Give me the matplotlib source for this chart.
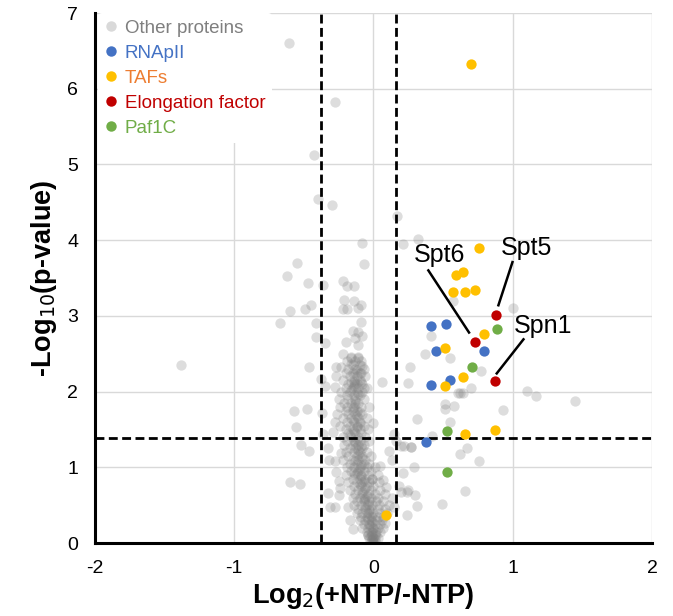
import matplotlib
matplotlib.use("Agg")
import matplotlib.pyplot as plt
from matplotlib.lines import Line2D

plt.rcParams['font.family'] = ['Liberation Sans', 'DejaVu Sans']
plt.rcParams['axes.unicode_minus'] = False

# ---------------- data ----------------
# Other proteins (outliers)
other_x = [-0.61, -0.28, -0.43, -0.40, -0.30, 0.17,
           -0.08, 0.21, -0.55, -0.07, -0.62, -0.47, -0.22, -0.19, -0.14, -0.36,
           -0.21, -0.14, -0.09, -0.22, -0.19, -0.11, -0.60, -0.49, -0.45, -0.67,
           -0.41, -0.09, -0.15, -0.11, -0.13, -0.08, -0.41, -0.35, -0.20, -0.11,
           -0.22, -0.16, -0.11, -0.16, -0.08, -0.27, -0.23, -1.38, -0.46, -0.13,
           -0.09, -0.27, -0.38, -0.16, -0.12, -0.09, 0.06, -0.35, -0.28, -0.14,
           -0.07, 0.26, 0.25,
           -0.57, -0.48, -0.56, -0.52, -0.46, -0.60, -0.53, -0.37, -0.36, -0.28,
           -0.29, -0.33, -0.32, -0.28, -0.27, -0.23, -0.33, -0.25, -0.25, -0.24,
           -0.31, -0.28, -0.18, -0.17, -0.15, 0.31, 0.00, 0.15, 0.20, 0.27,
           0.11, 0.13, 0.21, 0.29, 0.05, -0.01, 0.07, 0.09, 0.18, 0.25,
           0.30, 0.31, 0.24, 0.15, 0.13, 0.08, -0.04,
           0.32, 0.57, 1.00, 0.41, 0.55, 0.37, 0.77, 0.70, 0.62, 1.10,
           1.17, 1.45, 0.51, 0.51, 0.93, 0.55, 0.42, 0.67, 0.62, 0.76,
           0.61, 0.64, 0.58, 0.66, 0.49, 0.22, 0.16, 0.27, 0.20, 0.24]
other_y = [6.60, 5.82, 5.13, 4.55, 4.46, 4.32,
           3.96, 3.95, 3.70, 3.69, 3.53, 3.44, 3.46, 3.40, 3.40, 3.41,
           3.21, 3.20, 3.15, 3.09, 3.09, 3.11, 3.07, 3.09, 3.15, 2.91,
           2.91, 2.92, 2.80, 2.79, 2.71, 2.73, 2.72, 2.64, 2.65, 2.62,
           2.50, 2.46, 2.46, 2.37, 2.34, 2.32, 2.33, 2.35, 2.33, 2.24,
           2.24, 2.20, 2.17, 2.13, 2.11, 2.13, 2.13, 2.07, 2.06, 2.08,
           2.05, 2.33, 2.11,
           1.74, 1.77, 1.53, 1.30, 1.22, 0.80, 0.78, 1.72, 1.44, 1.60,
           1.47, 1.25, 1.10, 1.08, 0.94, 1.19, 0.66, 0.82, 0.63, 0.72,
           0.47, 0.48, 0.48, 0.30, 0.19, 1.64, 1.58, 1.44, 1.28, 1.27,
           1.21, 1.10, 0.93, 1.01, 1.02, 0.84, 0.83, 0.74, 0.75, 0.70,
           0.63, 0.49, 0.37, 0.48, 0.59, 0.26, 0.11,
           4.02, 3.20, 3.10, 2.73, 2.45, 2.49, 2.27, 2.05, 1.98, 2.01,
           1.94, 1.88, 1.83, 1.77, 1.76, 1.60, 1.41, 1.25, 1.18, 1.08,
           1.98, 1.98, 1.81, 0.69, 0.51, 1.28, 1.35, 1.27, 0.67, 0.68]

# Other proteins (dense central cloud), read row by row
cloud_x = [-0.16, -0.11, -0.19, -0.13, -0.09, -0.15, -0.10, -0.18, -0.13, -0.07,
           -0.20, -0.15, -0.10, -0.17, -0.12, -0.06, -0.22, -0.14, -0.10,
           -0.18, -0.13, -0.08, -0.20, -0.15, -0.11, -0.05, -0.23, -0.17, -0.12, -0.08,
           -0.19, -0.14, -0.10, -0.25, -0.18, -0.13, -0.07, -0.21, -0.16, -0.11,
           -0.24, -0.19, -0.14, -0.09, -0.03, -0.20, -0.15, -0.12,
           -0.26, -0.18, -0.13, -0.08, -0.22, -0.16, -0.11, -0.05,
           -0.19, -0.14, -0.10, -0.24, -0.17, -0.12, -0.07,
           -0.20, -0.15, -0.10, -0.04, -0.18, -0.13, -0.09,
           -0.22, -0.16, -0.11, -0.06, -0.19, -0.14, -0.10, -0.03,
           -0.21, -0.15, -0.11, -0.07, -0.17, -0.13, -0.08,
           -0.20, -0.14, -0.10, -0.05, -0.18, -0.12, -0.08, -0.02,
           -0.22, -0.15, -0.11, -0.06, -0.17, -0.12, -0.07, -0.03,
           -0.19, -0.14, -0.10, -0.05, 0.01, -0.16, -0.11, -0.07, -0.02,
           -0.20, -0.13, -0.09, -0.04, 0.03, -0.15, -0.10, -0.06, -0.01,
           -0.18, -0.12, -0.08, -0.03, 0.04, -0.14, -0.09, -0.05, 0.00,
           -0.17, -0.11, -0.07, -0.02, 0.05, -0.13, -0.08, -0.04, 0.01, 0.08,
           -0.15, -0.10, -0.06, -0.02, 0.03, -0.12, -0.07, -0.03, 0.02, 0.07,
           -0.14, -0.09, -0.05, -0.01, 0.04, 0.11, -0.11, -0.06, -0.02, 0.03, 0.08,
           -0.12, -0.08, -0.04, 0.00, 0.05, 0.10, -0.09, -0.05, -0.01, 0.03, 0.07,
           -0.10, -0.06, -0.02, 0.02, 0.06, -0.07, -0.03, 0.01, 0.05,
           -0.08, -0.04, 0.00, 0.03, 0.07, -0.05, -0.02, 0.02, 0.05,
           -0.04, -0.01, 0.02, -0.03, 0.00, 0.03, -0.02, 0.01, 0.00]
cloud_y = [2.45, 2.45, 2.40, 2.40, 2.40, 2.35, 2.35, 2.30, 2.30, 2.30,
           2.25, 2.25, 2.25, 2.20, 2.20, 2.20, 2.15, 2.15, 2.15,
           2.10, 2.10, 2.10, 2.05, 2.05, 2.05, 2.05, 2.00, 2.00, 2.00, 2.00,
           1.95, 1.95, 1.95, 1.90, 1.90, 1.90, 1.90, 1.85, 1.85, 1.85,
           1.80, 1.80, 1.80, 1.80, 1.80, 1.75, 1.75, 1.75,
           1.70, 1.70, 1.70, 1.70, 1.65, 1.65, 1.65, 1.65,
           1.60, 1.60, 1.60, 1.55, 1.55, 1.55, 1.55,
           1.50, 1.50, 1.50, 1.50, 1.45, 1.45, 1.45,
           1.40, 1.40, 1.40, 1.40, 1.35, 1.35, 1.35, 1.35,
           1.30, 1.30, 1.30, 1.30, 1.25, 1.25, 1.25,
           1.20, 1.20, 1.20, 1.20, 1.15, 1.15, 1.15, 1.15,
           1.10, 1.10, 1.10, 1.10, 1.05, 1.05, 1.05, 1.05,
           1.00, 1.00, 1.00, 1.00, 1.00, 0.95, 0.95, 0.95, 0.95,
           0.90, 0.90, 0.90, 0.90, 0.90, 0.85, 0.85, 0.85, 0.85,
           0.80, 0.80, 0.80, 0.80, 0.80, 0.75, 0.75, 0.75, 0.75,
           0.70, 0.70, 0.70, 0.70, 0.70, 0.65, 0.65, 0.65, 0.65, 0.65,
           0.60, 0.60, 0.60, 0.60, 0.60, 0.55, 0.55, 0.55, 0.55, 0.55,
           0.50, 0.50, 0.50, 0.50, 0.50, 0.50, 0.45, 0.45, 0.45, 0.45, 0.45,
           0.40, 0.40, 0.40, 0.40, 0.40, 0.40, 0.35, 0.35, 0.35, 0.35, 0.35,
           0.30, 0.30, 0.30, 0.30, 0.30, 0.25, 0.25, 0.25, 0.25,
           0.20, 0.20, 0.20, 0.20, 0.20, 0.15, 0.15, 0.15, 0.15,
           0.10, 0.10, 0.10, 0.06, 0.06, 0.06, 0.03, 0.03, 0.01]

# extra points in the darkest part of the spine
core_x = [-0.12, -0.14, -0.11, -0.13, -0.15, -0.12, -0.10, -0.14, -0.12, -0.09,
          -0.11, -0.13, -0.10, -0.08, -0.12, -0.09, -0.07, -0.10, -0.06, -0.08,
          -0.05, -0.07, -0.04, -0.06, -0.03, -0.05, -0.02, -0.04, -0.01, -0.03,
          -0.02, 0.00, -0.01, 0.01, -0.02, 0.00, 0.01, -0.01, 0.00, 0.00,
          -0.16, -0.13, -0.10, -0.15, -0.12, -0.17, -0.13, -0.11, -0.09, -0.14]
core_y = [2.28, 2.12, 1.97, 1.88, 1.78, 1.68, 1.58, 1.48, 1.38, 1.28,
          1.18, 1.08, 0.98, 1.12, 0.92, 0.88, 0.82, 0.78, 0.72, 0.68,
          0.62, 0.58, 0.52, 0.48, 0.44, 0.40, 0.36, 0.32, 0.28, 0.24,
          0.22, 0.18, 0.14, 0.12, 0.09, 0.07, 0.05, 0.04, 0.02, 0.00,
          2.02, 1.83, 1.73, 1.63, 1.53, 1.43, 1.33, 1.23, 1.03, 0.93]

rnapii_x = [0.41, 0.52, 0.45, 0.79, 0.41, 0.55, 0.38]
rnapii_y = [2.86, 2.89, 2.54, 2.54, 2.09, 2.15, 1.34]

tafs_x = [0.70, 0.76, 0.59, 0.64, 0.57, 0.66, 0.73, 0.79, 0.51, 0.64, 0.51, 0.66, 0.87, 0.09]
tafs_y = [6.32, 3.89, 3.54, 3.58, 3.32, 3.31, 3.34, 2.76, 2.58, 2.19, 2.08, 1.44, 1.49, 0.37]

elong_x = [0.88, 0.73, 0.87]
elong_y = [3.01, 2.65, 2.14]
elong_names = ["Spt5", "Spt6", "Spn1"]

paf_x = [0.89, 0.71, 0.53, 0.53]
paf_y = [2.82, 2.33, 1.48, 0.94]

fc_cutoffs = [-0.38, 0.16]
p_cutoff = 1.39

legend_labels = ["Other proteins", "RNApII", "TAFs", "Elongation factor", "Paf1C"]

# ---------------- styling ----------------
c_other = "#7f7f7f"
c_blue = "#4472C4"
c_yellow = "#FFC000"
c_red = "#C00000"
c_green = "#70AD47"

fig = plt.figure(figsize=(6.73, 6.16), dpi=100)
ax = fig.add_axes([95/673, 73/616, 557/673, 530/616])

ax.set_xlim(-2, 2)
ax.set_ylim(0, 7)
ax.set_xticks([-2, -1, 0, 1, 2])
ax.set_yticks(range(0, 8))
ax.grid(True, color="#d9d9d9", linewidth=1.0, zorder=0)
ax.set_axisbelow(True)
for s in ["top", "right"]:
    ax.spines[s].set_visible(False)
for s in ["left", "bottom"]:
    ax.spines[s].set_linewidth(2.2)
    ax.spines[s].set_color("black")
    ax.spines[s].set_zorder(6)
ax.tick_params(length=0, labelsize=14)
ax.tick_params(axis="x", pad=12)
ax.tick_params(axis="y", pad=12)

ms = 55
ax.scatter(other_x + cloud_x + core_x, other_y + cloud_y + core_y, s=ms, color=c_other,
           alpha=0.26, linewidths=0, zorder=2)

for xv in fc_cutoffs:
    ax.axvline(xv, color="black", linestyle=(0, (3.2, 1.6)), linewidth=2.0, zorder=3)
ax.axhline(p_cutoff, color="black", linestyle=(0, (3.2, 1.6)), linewidth=2.0, zorder=3)

ax.scatter(rnapii_x, rnapii_y, s=ms, color=c_blue, linewidths=0, zorder=4)
ax.scatter(tafs_x, tafs_y, s=ms, color=c_yellow, linewidths=0, zorder=4)
ax.scatter(elong_x, elong_y, s=ms, color=c_red, linewidths=0, zorder=4)
ax.scatter(paf_x, paf_y, s=ms, color=c_green, linewidths=0, zorder=4)

# annotations: label position, line start, line end
ann = {"Spt5": ((1.10, 3.90), (0.998, 3.71), (0.897, 3.14)),
       "Spt6": ((0.475, 3.80), (0.394, 3.60), (0.686, 2.78)),
       "Spn1": ((1.22, 2.87), (1.077, 2.69), (0.885, 2.24))}
for name, (tpos, p0, p1) in ann.items():
    ax.text(tpos[0], tpos[1], name, fontsize=18, ha="center", va="center", zorder=5)
    ax.plot([p0[0], p1[0]], [p0[1], p1[1]], color="black", linewidth=1.8, zorder=5)

ax.set_xlabel("Log$_2$(+NTP/-NTP)", fontsize=19.5, fontweight="bold")
ax.xaxis.set_label_coords(0.481, -0.072)
ax.set_ylabel("-Log$_{10}$(p-value)", fontsize=19.5, fontweight="bold", labelpad=6)

handles = [Line2D([], [], marker="o", linestyle="none", markersize=7.5, markeredgewidth=0,
                  color=c) for c in ["#d9d9d9", c_blue, c_yellow, c_red, c_green]]
leg = ax.legend(handles, legend_labels, loc="upper left", fontsize=13.5,
                frameon=True, facecolor="white", edgecolor="none", framealpha=1,
                handlelength=0.6, handletextpad=0.45, labelspacing=0.42,
                borderaxespad=0.0, borderpad=0.35, bbox_to_anchor=(0.006, 1.0))
leg.set_zorder(5)
for t, c in zip(leg.get_texts(), [c_other, c_blue, "#ED7D31", c_red, c_green]):
    t.set_color(c)

fig.savefig("out.png", dpi=100)
